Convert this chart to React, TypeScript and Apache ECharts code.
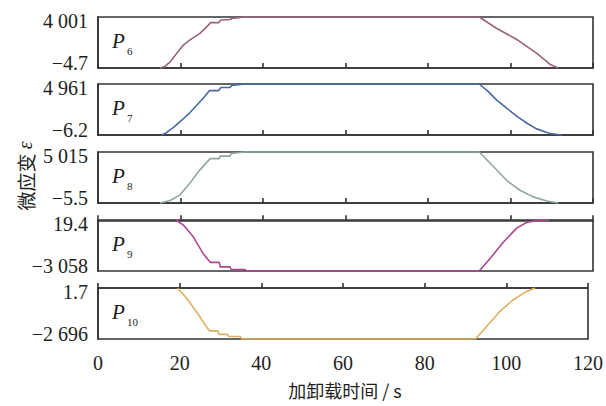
import React, { useEffect, useRef } from "react";
import * as echarts from "echarts";

const panelNames = ["6", "7", "8", "9", "10"];
const yMins = [-4.7, -6.2, -5.5, -3058, -2696];
const yMaxs = [4001, 4961, 5015, 19.4, 1.7];
const colors = ["#9a6472", "#4a69a3", "#8fa89b", "#b0458f", "#e0af62"];
const xTicks = [0, 20, 40, 60, 80, 100, 120];

const p6: [number, number][] = [
  [15, -4.7], [16.2, 115], [17.5, 476], [19.1, 1157], [20.7, 1798], [22.3, 2199],
  [24.7, 2719], [26.4, 3240], [27.3, 3560], [29.2, 3560], [29.8, 3761], [32.0, 3801],
  [32.4, 3881], [35.6, 4001], [92.4, 4001], [96.6, 3120], [101.5, 2239], [106.3, 1157],
  [109.6, 276], [111.6, -4.7],
];
const p7: [number, number][] = [
  [15.4, -6.2], [16.5, 193], [18.3, 739], [20.3, 1434], [22.3, 2179], [25.5, 3570],
  [27.0, 4315], [29.2, 4315], [29.8, 4613], [32.0, 4613], [32.4, 4812], [35.6, 4961],
  [92.4, 4961], [94.5, 4266], [96.6, 3421], [99.0, 2627], [101.5, 1832], [104.0, 1136],
  [106.3, 590], [109.6, 143], [112.4, -6.2],
];
const p8: [number, number][] = [
  [15, -5.5], [17.5, 245], [19.9, 798], [22.3, 1953], [24.7, 3258], [27.2, 4362],
  [29.4, 4362], [29.6, 4613], [32.0, 4613], [32.3, 4865], [35.6, 5015], [92.4, 5015],
  [95.8, 3609], [99.1, 2204], [102.3, 1250], [105.5, 597], [108.8, 195], [111.6, -5.5],
];
const p9: [number, number][] = [
  [18.9, 19.4], [20.7, -288], [23.1, -996], [25.5, -2012], [27.2, -2535], [29.4, -2535],
  [29.6, -2812], [32.0, -2812], [32.3, -2966], [35.7, -2966], [35.9, -3058], [92.4, -3058],
  [95.0, -2319], [98.3, -1304], [101.5, -473], [103.9, -135], [106.3, -11], [109.4, 19.4],
];
const p10: [number, number][] = [
  [19.5, 1.7], [21.5, -484], [23.9, -1185], [26.4, -1995], [27.3, -2264], [29.4, -2264],
  [29.6, -2453], [31.7, -2453], [32.0, -2561], [34.8, -2561], [35.2, -2696], [92.4, -2696],
  [95.0, -2076], [98.3, -1266], [101.5, -646], [104.7, -214], [107.0, 1.7],
];
const seriesData = [p6, p7, p8, p9, p10];

const xTitle = "加卸载时间 / s";
const yTitle = "微应变";

const FONT = "Liberation Serif";
const CJK = "Noto Sans CJK SC";
const TEXT = "#1e1e1e";
const FRAME = "#333333";

function fmt(v: number): string {
  const neg = v < 0;
  const a = Math.abs(v);
  let s = String(Math.round(a * 10) / 10);
  const parts = s.split(".");
  let ip = parts[0];
  if (ip.length >= 4) ip = ip.replace(/\B(?=(\d{3})+(?!\d))/g, " ");
  s = parts.length > 1 ? ip + "." + parts[1] : ip;
  return (neg ? "\u2212" : "") + s;
}

const tops = [17, 84, 152, 220, 288];
const H = 51;

export default function App() {
  const ref = useRef<HTMLDivElement>(null);
  useEffect(() => {
    if (!ref.current) return;
    const chart = echarts.init(ref.current, undefined, { renderer: "svg" });
    const grids = tops.map((t) => ({
      left: 98,
      right: 13,
      top: t,
      height: H,
      show: true,
      borderColor: FRAME,
      borderWidth: 1.6,
      backgroundColor: "transparent",
    }));
    const xAxes = tops.map((_, i) => ({
      type: "value",
      gridIndex: i,
      min: 0,
      max: 120,
      interval: 20,
      axisLine: { show: true, lineStyle: { color: FRAME, width: 1.6 } },
      axisTick: { show: true, inside: true, length: 5, lineStyle: { color: FRAME, width: 1.6 } },
      splitLine: { show: false },
      axisLabel: {
        show: i === 4,
        fontFamily: FONT,
        fontSize: 20,
        color: TEXT,
        margin: 14,
        customValues: xTicks,
      },
    }));
    const yAxes = tops.map((_, i) => ({
      type: "value",
      gridIndex: i,
      min: yMins[i],
      max: yMaxs[i],
      axisLine: { show: true, lineStyle: { color: FRAME, width: 1.6 } },
      axisTick: { show: false },
      splitLine: { show: false },
      axisLabel: {
        show: true,
        customValues: [yMins[i], yMaxs[i]],
        margin: 10,
        fontFamily: FONT,
        fontSize: 20,
        color: TEXT,
        formatter: (v: number) =>
          Math.abs(v - yMaxs[i]) < 1e-6 ? "{t|" + fmt(v) + "}" : "{b|" + fmt(v) + "}",
        rich: {
          t: { fontFamily: FONT, fontSize: 20, color: TEXT, padding: [8, 0, 0, 0] },
          b: { fontFamily: FONT, fontSize: 20, color: TEXT, padding: [0, 0, 10, 0] },
        },
      },
    }));
    const series = seriesData.map((d, i) => ({
      type: "line",
      xAxisIndex: i,
      yAxisIndex: i,
      data: d,
      showSymbol: false,
      clip: false,
      lineStyle: { color: colors[i], width: 1.6 },
      z: 3,
    }));
    const graphic: any[] = [];
    panelNames.forEach((n, i) => {
      const cy = tops[i] + H / 2;
      graphic.push({
        type: "text",
        left: 112,
        top: cy - 12,
        style: { text: "P", fontFamily: FONT, fontStyle: "italic", fontSize: 21, fill: TEXT },
      });
      graphic.push({
        type: "text",
        left: 127,
        top: cy + 3,
        style: { text: n, fontFamily: FONT, fontSize: 11, fill: TEXT },
      });
    });
    graphic.push({
      type: "text",
      x: 25,
      y: 176,
      rotation: Math.PI / 2,
      style: {
        text: "{c|" + yTitle + " }{e|ε}",
        align: "center",
        verticalAlign: "middle",
        rich: {
          c: { fontFamily: CJK, fontSize: 19, fill: TEXT },
          e: { fontFamily: FONT, fontStyle: "italic", fontSize: 20, fill: TEXT },
        },
      },
    });
    graphic.push({
      type: "text",
      x: 345,
      y: 390,
      style: {
        text: xTitle,
        align: "center",
        verticalAlign: "middle",
        fontFamily: CJK,
        fontSize: 18,
        fill: TEXT,
      },
    });
    chart.setOption({
      animation: false,
      backgroundColor: "#ffffff",
      textStyle: { fontFamily: FONT },
      grid: grids,
      xAxis: xAxes,
      yAxis: yAxes,
      series,
      graphic,
    } as any);
    return () => chart.dispose();
  }, []);
  return (
    <div
      ref={ref}
      style={{ position: "absolute", left: 0, top: 0, width: 606, height: 406 }}
    />
  );
}
